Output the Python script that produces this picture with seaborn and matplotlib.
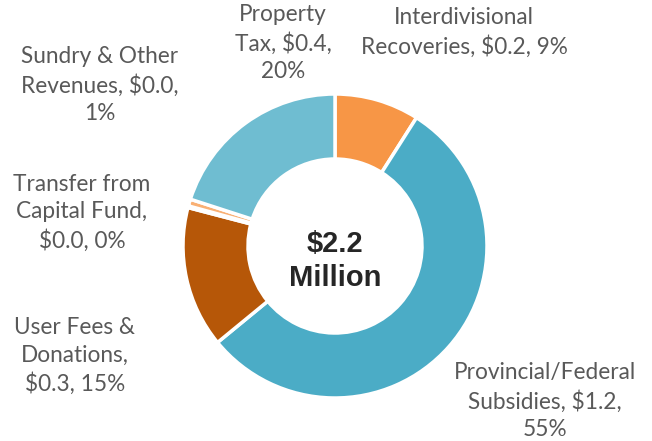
import matplotlib
matplotlib.use("Agg")
import matplotlib.pyplot as plt
import seaborn as sns

# revenue sources, clockwise from 12 o'clock ($ millions)
sources = ["Interdivisional Recoveries", "Provincial/Federal Subsidies",
           "User Fees & Donations", "Transfer from Capital Fund",
           "Sundry & Other Revenues", "Property Tax"]
amounts = [0.198, 1.21, 0.33, 0.004, 0.016, 0.44]
label_texts = [
    "Interdivisional\nRecoveries, $0.2, 9%",
    "Provincial/Federal\nSubsidies, $1.2,\n55%",
    "User Fees &\nDonations,\n$0.3, 15%",
    "Transfer from\nCapital Fund,\n$0.0, 0%",
    "Sundry & Other\nRevenues, $0.0,\n1%",
    "Property\nTax, $0.4,\n20%",
]
total_text = "$2.2\nMillion"

colors = ["#F79646", "#4BACC6", "#B65708", "#276A7C", "#F9B074", "#6FBDD1"]

sns.set_theme(style="white")
plt.rcParams['font.family'] = ['Lato', 'DejaVu Sans']

fig = plt.figure(figsize=(6.52, 4.41), dpi=100)
ax = fig.add_axes([0, 0, 1, 1])

H = 441
cx, cy, r = 335, H - 246, 152

ax.pie(amounts, colors=colors, startangle=90, counterclock=False,
       center=(cx, cy), radius=r, frame=True,
       wedgeprops=dict(width=r - 87, edgecolor="white", linewidth=2.5))
ax.set_xlim(0, 652)
ax.set_ylim(0, 441)
ax.set_aspect("equal")
ax.axis("off")

# data label positions (pixel centres from top-left)
label_pos = [(464, 32), (545, 401), (75, 356), (82, 213), (100, 85), (283, 43)]
for txt, (x, y) in zip(label_texts, label_pos):
    ax.text(x, H - y, txt, ha="center", va="center", fontsize=16.3,
            color="#595959", linespacing=1.38)

ax.text(cx, H - 261, total_text, ha="center", va="center", fontsize=21,
        fontweight="bold", color="#262626", family="Liberation Sans",
        linespacing=1.25)

fig.savefig("out.png", dpi=100)
